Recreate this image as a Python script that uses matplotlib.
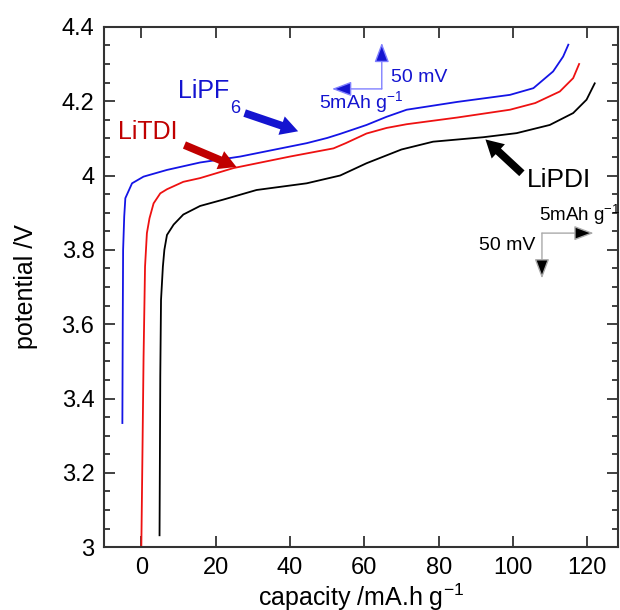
import matplotlib
matplotlib.use('Agg')
import matplotlib.pyplot as plt
from matplotlib.ticker import MultipleLocator

plt.rcParams['font.family'] = ['Liberation Sans', 'DejaVu Sans']
plt.rcParams['mathtext.fontset'] = 'custom'
plt.rcParams['mathtext.rm'] = 'Liberation Sans'
plt.rcParams['mathtext.it'] = 'Liberation Sans'

# LiPF6 (blue)
cap_lipf6 = [-5.1, -5.0, -4.9, -4.6, -4.3, -2.5, 0.6, 6.9, 15.8, 26.6, 44.5,
             50.0, 53.5, 60.6, 66.0, 71.4, 85.0, 99.2, 105.5, 110.8, 113.5, 114.9]
pot_lipf6 = [3.334, 3.60, 3.80, 3.89, 3.939, 3.979, 3.997, 4.015, 4.035, 4.051, 4.087,
             4.101, 4.112, 4.136, 4.158, 4.177, 4.198, 4.217, 4.235, 4.28, 4.32, 4.352]

# LiTDI (red)
cap_litdi = [0.0, 0.3, 0.6, 1.0, 1.5, 2.2, 3.3, 5.1, 6.9, 11.3, 15.8, 24.8, 40.0,
             51.7, 55.0, 60.6, 66.0, 71.4, 85.0, 99.2, 106.0, 112.6, 116.2, 117.8]
pot_litdi = [3.0, 3.25, 3.51, 3.755, 3.845, 3.885, 3.925, 3.952, 3.963, 3.983, 3.993, 4.02, 4.051,
             4.073, 4.087, 4.113, 4.128, 4.138, 4.156, 4.177, 4.195, 4.226, 4.262, 4.30]

# LiPDI (black)
cap_lipdi = [4.9, 5.1, 5.3, 5.8, 6.2, 6.9, 8.7, 11.3, 15.8, 22.0, 31.0, 44.5, 53.5,
             60.6, 70.0, 78.5, 92.0, 101.0, 109.9, 116.2, 119.8, 122.0]
pot_lipdi = [3.032, 3.46, 3.665, 3.755, 3.80, 3.84, 3.868, 3.895, 3.918, 3.935, 3.961, 3.979, 4.0,
             4.033, 4.07, 4.091, 4.103, 4.114, 4.136, 4.168, 4.204, 4.248]

fig = plt.figure(figsize=(6.2, 6.1), dpi=100)
ax = fig.add_axes([0.168, 0.103, 0.829, 0.853])

ax.plot(cap_lipf6, pot_lipf6, color='#1414e6', lw=1.3)
ax.plot(cap_litdi, pot_litdi, color='#ee1111', lw=1.3)
ax.plot(cap_lipdi, pot_lipdi, color='black', lw=1.3)

ax.set_xlim(-10, 128.3)
ax.set_ylim(3, 4.4)
ax.xaxis.set_major_locator(MultipleLocator(20))
ax.yaxis.set_minor_locator(MultipleLocator(0.05))
ax.set_yticks([3, 3.2, 3.4, 3.6, 3.8, 4, 4.2, 4.4])
ax.set_yticklabels(['3', '3.2', '3.4', '3.6', '3.8', '4', '4.2', '4.4'])
ax.tick_params(which='both', direction='in', top=True, right=True, labelsize=17,
               color='#333333', width=1.3)
ax.tick_params(which='major', length=8, pad=7)
ax.tick_params(which='minor', length=4)
for s in ax.spines.values():
    s.set_linewidth(1.5)
    s.set_color('#333333')

ax.set_xlabel('capacity /mA.h g$^{-1}$', fontsize=18, labelpad=2)
ax.set_ylabel('potential /V', fontsize=18, labelpad=17)

# labels with fat arrows
fat = 'simple,head_length=0.9,head_width=1.0,tail_width=0.4'
ax.text(9.9, 4.228, 'LiPF', color='#1414d0', fontsize=18, va='center')
ax.text(23.9, 4.180, '6', color='#1414d0', fontsize=13, va='center')
ax.annotate('', xy=(42.2, 4.119), xytext=(27.8, 4.168),
            arrowprops=dict(arrowstyle=fat, mutation_scale=14, lw=0,
                            color='#1414d0', shrinkA=0, shrinkB=0))

ax.text(-6.4, 4.117, 'LiTDI', color='#c00000', fontsize=18, va='center')
ax.annotate('', xy=(25.6, 4.023), xytext=(11.6, 4.082),
            arrowprops=dict(arrowstyle=fat, mutation_scale=14, lw=0,
                            color='#c00000', shrinkA=0, shrinkB=0))

ax.text(103.8, 3.988, 'LiPDI', color='black', fontsize=19, va='center')
ax.annotate('', xy=(92.6, 4.097), xytext=(102.4, 4.006),
            arrowprops=dict(arrowstyle=fat, mutation_scale=14, lw=0,
                            color='black', shrinkA=0, shrinkB=0))

# scale bars
bar_blue = dict(arrowstyle='-|>,head_length=1.2,head_width=0.45', lw=1,
                edgecolor='#8080ff', facecolor='#1414d0', shrinkA=0, shrinkB=0)
ax.annotate('', xy=(64.7, 4.357), xytext=(64.7, 4.233), arrowprops=bar_blue)
ax.annotate('', xy=(51.3, 4.233), xytext=(64.7, 4.233), arrowprops=bar_blue)
ax.text(67.3, 4.263, '50 mV', color='#1414d0', fontsize=14, va='center')
ax.text(47.8, 4.197, '5mAh g$^{-1}$', color='#1414d0', fontsize=14, va='center')

bar_black = dict(arrowstyle='-|>,head_length=1.2,head_width=0.45', lw=1,
                 edgecolor='#aaaaaa', facecolor='black', shrinkA=0, shrinkB=0)
ax.annotate('', xy=(121.7, 3.845), xytext=(107.8, 3.845), arrowprops=bar_black)
ax.annotate('', xy=(107.8, 3.723), xytext=(107.8, 3.845), arrowprops=bar_black)
ax.text(107.0, 3.894, '5mAh g$^{-1}$', color='black', fontsize=13.5, va='center')
ax.text(106.0, 3.813, '50 mV', color='black', fontsize=14, va='center', ha='right')

fig.savefig('out.png', dpi=100)
